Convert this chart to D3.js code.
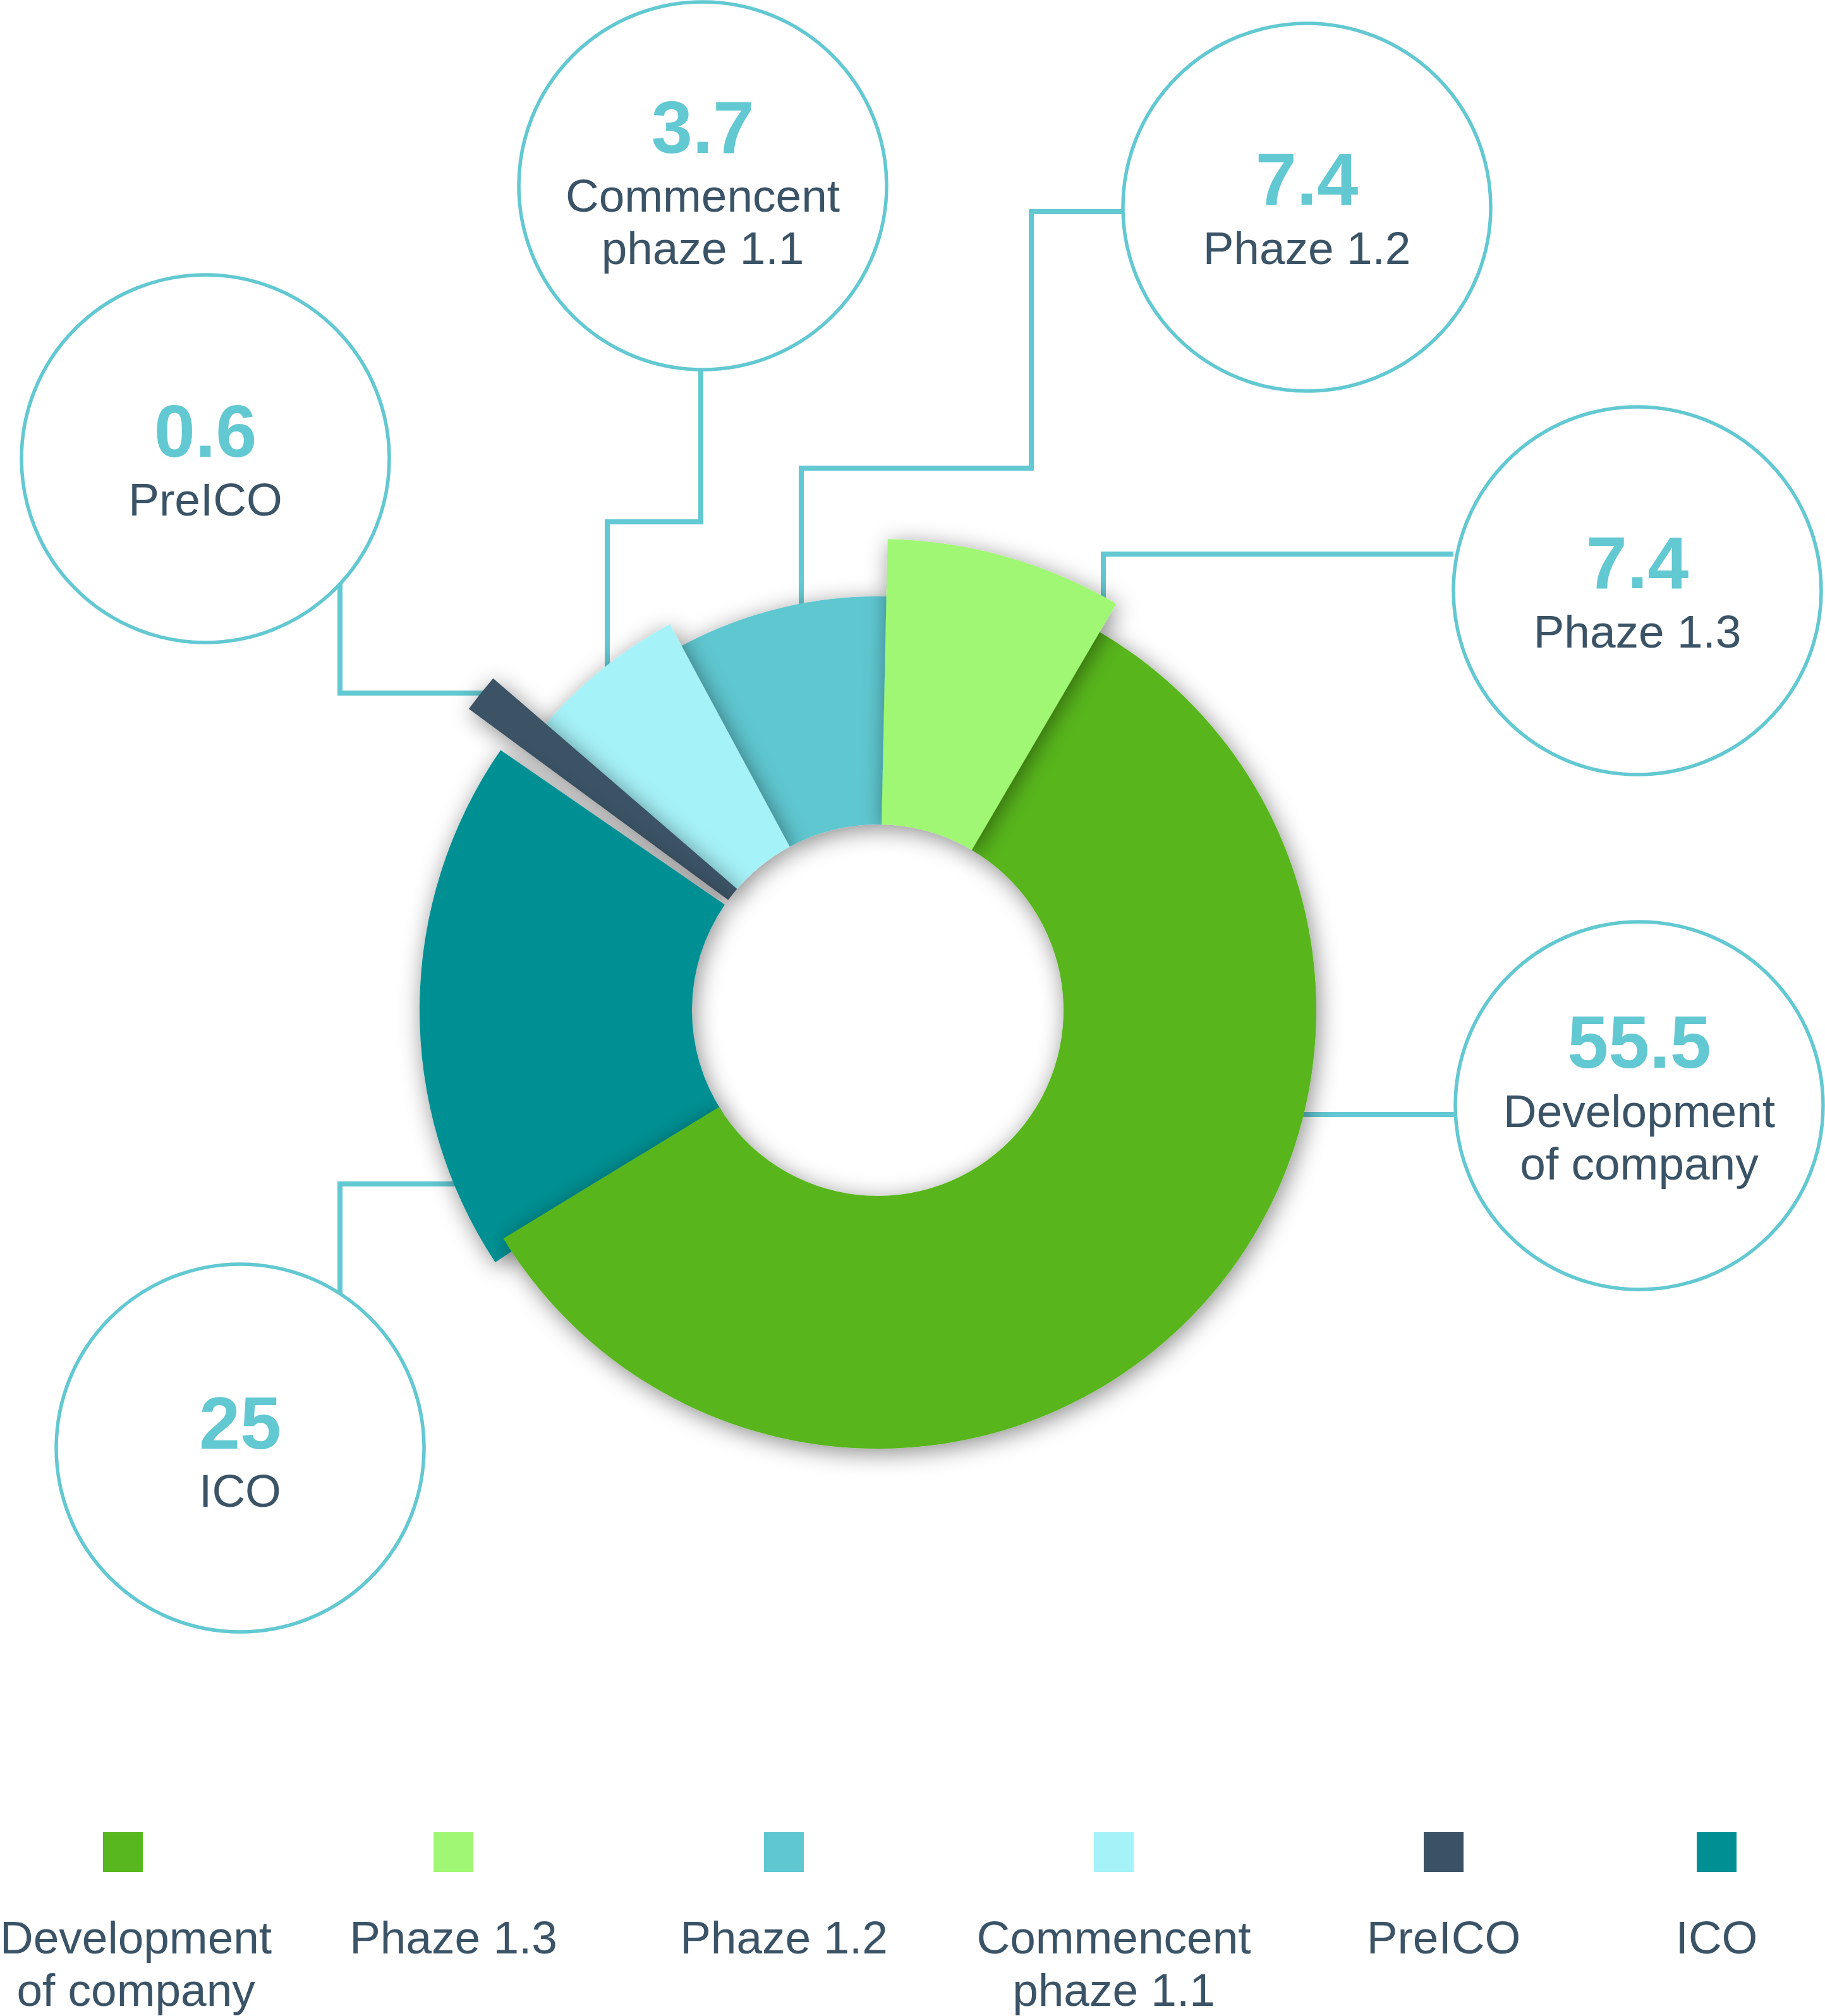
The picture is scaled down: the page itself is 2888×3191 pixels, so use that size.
<!DOCTYPE html>
<html>
<head>
<meta charset="utf-8">
<script src="https://cdn.jsdelivr.net/npm/d3@7"></script>
<style>
html, body { margin: 0; padding: 0; background: #ffffff; }
svg { display: block; }
</style>
</head>
<body>
<script>
// ---------------- DATA ----------------
// Slices in clockwise order starting near 12 o'clock
const categories   = ["Phaze 1.3", "Development of company", "ICO", "PreICO", "Commencent phaze 1.1", "Phaze 1.2"];
// Values printed in the callouts
const labelValues  = [7.4, 55.5, 25, 0.6, 3.7, 7.4];
// Angular size of each ring segment as drawn in the picture (degrees)
const ringDegrees  = [29.2, 208.2, 66.0, 6.2, 20.9, 29.5];
// Callout label lines
const calloutLines = [["Phaze 1.3"], ["Development", "of company"], ["ICO"], ["PreICO"], ["Commencent", "phaze 1.1"], ["Phaze 1.2"]];
// Legend
const legendOrder  = ["Development of company", "Phaze 1.3", "Phaze 1.2", "Commencent phaze 1.1", "PreICO", "ICO"];
const legendLines  = [["Development", "of company"], ["Phaze 1.3"], ["Phaze 1.2"], ["Commencent", "phaze 1.1"], ["PreICO"], ["ICO"]];

// ---------------- STYLE / LAYOUT ----------------
const W = 2888, H = 3191;
const cx = 1389, cy = 1599, innerR = 294;
const startDeg = 1.2;
const colors = {
  "Development of company": "#58b61e",
  "Phaze 1.3": "#a0f773",
  "Phaze 1.2": "#5fc7d0",
  "Commencent phaze 1.1": "#a5f2f8",
  "PreICO": "#3a5265",
  "ICO": "#009093"
};
const outerRadius = {
  "Phaze 1.3": 746,
  "Development of company": 694,
  "ICO": 725,
  "PreICO": 804,
  "Commencent phaze 1.1": 694,
  "Phaze 1.2": 655
};
// angular tweaks (deg) [start, end]: tuck edges under neighbours / visible gap
const angleTweak = {
  "Phaze 1.3": [0, 0],
  "Development of company": [-0.6, 0],
  "ICO": [-2.0, 0],
  "PreICO": [1.8, 0],
  "Commencent phaze 1.1": [-1.5, 0],
  "Phaze 1.2": [0, 0.6]
};
const drawOrder = ["Phaze 1.2", "Commencent phaze 1.1", "PreICO", "ICO", "Development of company", "Phaze 1.3"];

const accent = "#62c8d1";
const textDark = "#3b5366";
const fontFamily = "'Liberation Sans', Arial, Helvetica, sans-serif";

// Callout circles: centre, baseline offsets
const callouts = {
  "PreICO":                 { x: 325,  y: 726,  num: -3.5, lab: 90 },
  "Commencent phaze 1.1":   { x: 1112, y: 294,  num: -52,  lab: 41 },
  "Phaze 1.2":              { x: 2068, y: 328,  num: -4.5, lab: 90 },
  "Phaze 1.3":              { x: 2591, y: 935,  num: -4.5, lab: 90 },
  "Development of company": { x: 2594, y: 1750, num: -60,  lab: 34 },
  "ICO":                    { x: 380,  y: 2292, num: 1,    lab: 93 }
};
const calloutR = 291;
const lineGap = 83;

// Leader lines (annotation routing)
const leaders = {
  "PreICO":                 [[538, 924], [538, 1097], [770, 1097]],
  "Commencent phaze 1.1":   [[1109, 585], [1109, 826], [961, 826], [961, 1070]],
  "Phaze 1.2":              [[1777, 335], [1632, 335], [1632, 741], [1268, 741], [1268, 970]],
  "Phaze 1.3":              [[2300, 877], [1746, 877], [1746, 970]],
  "Development of company": [[2303, 1764], [2050, 1764]],
  "ICO":                    [[538, 2047], [538, 1874], [730, 1874]]
};

const legendX = [163, 686, 1209, 1731, 2253, 2685];
const legendY = 2900, legendSize = 63;
const legendBase1 = 3092;

// ---------------- DRAW ----------------
const svg = d3.select("body").append("svg")
  .attr("width", W).attr("height", H)
  .attr("viewBox", `0 0 ${W} ${H}`);

svg.append("rect").attr("width", W).attr("height", H).attr("fill", "#ffffff");

const defs = svg.append("defs");
const f = defs.append("filter").attr("id", "shadow")
  .attr("x", "-40%").attr("y", "-40%").attr("width", "180%").attr("height", "180%");
f.append("feDropShadow")
  .attr("dx", 4).attr("dy", 7).attr("stdDeviation", 18)
  .attr("flood-color", "#000").attr("flood-opacity", 0.45);

// Leader lines (under the donut)
const lineGen = d3.line();
const gLeaders = svg.append("g");
categories.forEach(c => {
  gLeaders.append("path")
    .attr("d", lineGen(leaders[c]))
    .attr("fill", "none")
    .attr("stroke", accent)
    .attr("stroke-width", 8)
    .attr("stroke-linejoin", "miter")
    .attr("stroke-linecap", "butt");
});

// Donut
const rad = Math.PI / 180;
const pie = d3.pie().sort(null).value(d => d.deg)
  .startAngle(startDeg * rad).endAngle(startDeg * rad + 2 * Math.PI);
const slices = pie(categories.map((c, i) => ({ cat: c, deg: ringDegrees[i], val: labelValues[i] })));
const byCat = {};
slices.forEach(s => { byCat[s.data.cat] = s; });

const gDonut = svg.append("g").attr("transform", `translate(${cx},${cy})`);
drawOrder.forEach(c => {
  const s = byCat[c];
  const tw = angleTweak[c];
  const arc = d3.arc()
    .innerRadius(innerR)
    .outerRadius(outerRadius[c])
    .startAngle(s.startAngle + tw[0] * rad)
    .endAngle(s.endAngle + tw[1] * rad);
  gDonut.append("path")
    .attr("d", arc())
    .attr("fill", colors[c])
    .attr("filter", "url(#shadow)");
});

// Callout circles
const gCall = svg.append("g").attr("font-family", fontFamily);
categories.forEach((c, i) => {
  const k = callouts[c];
  gCall.append("circle")
    .attr("cx", k.x).attr("cy", k.y).attr("r", calloutR)
    .attr("fill", "#ffffff")
    .attr("stroke", accent).attr("stroke-width", 5.5);
  gCall.append("text")
    .attr("x", k.x).attr("y", k.y + k.num)
    .attr("text-anchor", "middle")
    .attr("font-size", 117).attr("font-weight", "bold")
    .attr("fill", accent)
    .text(String(labelValues[i]));
  calloutLines[i].forEach((ln, j) => {
    gCall.append("text")
      .attr("x", k.x).attr("y", k.y + k.lab + j * lineGap)
      .attr("text-anchor", "middle")
      .attr("font-size", 73)
      .attr("fill", textDark)
      .text(ln);
  });
});

// Legend
const gLeg = svg.append("g").attr("font-family", fontFamily);
legendOrder.forEach((c, i) => {
  const x = legendX[i];
  gLeg.append("rect")
    .attr("x", x).attr("y", legendY)
    .attr("width", legendSize).attr("height", legendSize)
    .attr("fill", colors[c]);
  const center = x + legendSize / 2;
  legendLines[i].forEach((ln, j) => {
    gLeg.append("text")
      .attr("x", center).attr("y", legendBase1 + j * lineGap)
      .attr("text-anchor", "middle")
      .attr("font-size", 73)
      .attr("fill", textDark)
      .text(ln);
  });
  // keep block inside the page
  const texts = gLeg.selectAll("text").filter(function () { return +this.getAttribute("x") === center; });
  let maxW = 0;
  texts.each(function () { maxW = Math.max(maxW, this.getComputedTextLength()); });
  if (center - maxW / 2 < 0) texts.attr("x", maxW / 2);
  if (center + maxW / 2 > W) texts.attr("x", W - maxW / 2);
});
</script>
</body>
</html>
